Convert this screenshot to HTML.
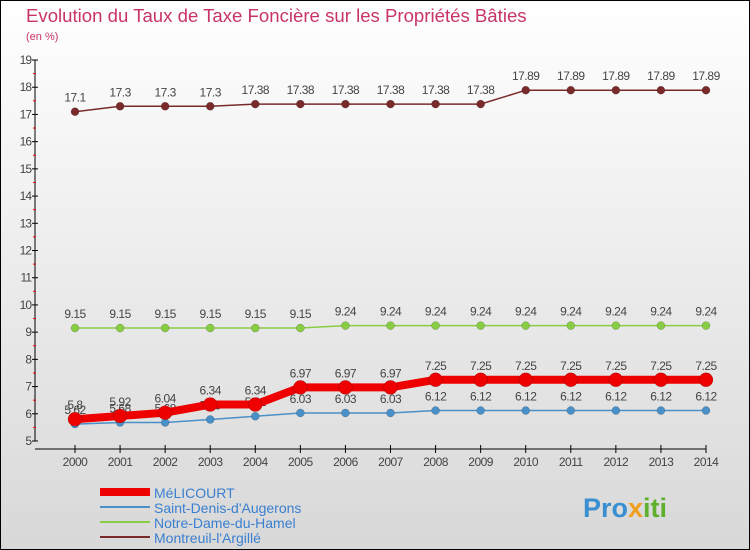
<!DOCTYPE html>
<html><head><meta charset="utf-8"><style>
body{margin:0;width:750px;height:550px;overflow:hidden;font-family:"Liberation Sans",sans-serif}
svg{display:block}
</style></head><body>
<svg id="c" width="750" height="550" xmlns="http://www.w3.org/2000/svg">
<defs><linearGradient id="bg" x1="0" y1="0" x2="0" y2="1"><stop offset="0" stop-color="#ffffff"/><stop offset="1" stop-color="#d8d8d8"/></linearGradient></defs>
<rect x="0.5" y="0.5" width="749" height="549" fill="url(#bg)" stroke="#000"/>
<text x="26" y="22" font-size="18.6" fill="#c8336a">Evolution du Taux de Taxe Foncière sur les Propriétés Bâties</text>
<text x="26" y="40" font-size="11" fill="#c8336a">(en %)</text>
<g id="axes"></g><g id="series"></g><g id="legend"></g>
<text x="583" y="517" font-size="27" font-weight="bold" fill="#3a8fd0">Pro<tspan fill="#f0a020">x</tspan><tspan fill="#60b030">iti</tspan></text>
</svg>
<script>
const years=[2000,2001,2002,2003,2004,2005,2006,2007,2008,2009,2010,2011,2012,2013,2014];
const melicourt=[5.8,5.92,6.04,6.34,6.34,6.97,6.97,6.97,7.25,7.25,7.25,7.25,7.25,7.25,7.25];
const saintDenis=[5.62,5.68,5.68,5.79,5.91,6.03,6.03,6.03,6.12,6.12,6.12,6.12,6.12,6.12,6.12];
const notreDame=[9.15,9.15,9.15,9.15,9.15,9.15,9.24,9.24,9.24,9.24,9.24,9.24,9.24,9.24,9.24];
const montreuil=[17.1,17.3,17.3,17.3,17.38,17.38,17.38,17.38,17.38,17.38,17.89,17.89,17.89,17.89,17.89];
const yTicks=[5,6,7,8,9,10,11,12,13,14,15,16,17,18,19];
const NS="http://www.w3.org/2000/svg";
const X=i=>75+i*(706-75)/14;
const Y=v=>441-(v-5)*(441-60)/14;
function mk(t,a,p){const e=document.createElementNS(NS,t);for(const k in a)e.setAttribute(k,a[k]);p.appendChild(e);return e;}
const ax=document.getElementById('axes');
const ya=mk('line',{x1:35,y1:Y(19),x2:35,y2:Y(5),stroke:'#000'},ax);


const xa=mk('line',{x1:35,y1:449,x2:706,y2:449,stroke:'#000'},ax);


yTicks.forEach(v=>{
 mk('line',{x1:32,y1:Y(v),x2:38,y2:Y(v),stroke:'#000'},ax);
 if(v<19)mk('line',{x1:33,y1:Y(v+0.5),x2:36,y2:Y(v+0.5),stroke:'#e00'},ax);
 const t=mk('text',{x:31,y:Y(v)+4,'font-size':12,'text-anchor':'end',fill:'#444','letter-spacing':'-1'},ax);t.textContent=v;
 
 
});
years.forEach((y,i)=>{
 mk('line',{x1:X(i),y1:445,x2:X(i),y2:453,stroke:'#000'},ax);
 const t=mk('text',{x:X(i),y:466,'font-size':12,'text-anchor':'middle',fill:'#444','letter-spacing':'-0.5'},ax);t.textContent=y;
 
 
});
const S=[
 {name:'Montreuil-l\'Argillé',d:montreuil,c:'#7a2a2a',w:1.5,r:4},
 {name:'Notre-Dame-du-Hamel',d:notreDame,c:'#88cc44',w:1.5,r:4},
 {name:'Saint-Denis-d\'Augerons',d:saintDenis,c:'#4a90c8',w:1.5,r:4},
 {name:'MéLICOURT',d:melicourt,c:'#ee0000',w:8,r:7}
];
const sg=document.getElementById('series');
S.forEach(s=>{
 const g=mk('g',{},sg);
 
 
 mk('polyline',{points:s.d.map((v,i)=>X(i)+','+Y(v)).join(' '),fill:'none',stroke:s.c,'stroke-width':s.w},g);
 s.d.forEach((v,i)=>{
  const p=mk('circle',{cx:X(i),cy:Y(v),r:s.r,fill:s.c,stroke:'rgba(0,0,0,0.3)','stroke-width':0.5},g);
  
  
  const t=mk('text',{x:X(i),y:Y(v)-10,'font-size':12,'text-anchor':'middle',fill:'#444','letter-spacing':'-0.5'},g);t.textContent=v;
 });
});
const lg=document.getElementById('legend');
[S[3],S[2],S[1],S[0]].forEach((s,i)=>{
 const y=492+i*15;
 const g=mk('g',{},lg);
 
 
 mk('line',{x1:100,y1:y,x2:150,y2:y,stroke:s.c,'stroke-width':s.w===8?8:2},g);
 const t=mk('text',{x:154,y:y+6,'font-size':14,fill:'#3a7fd0'},g);t.textContent=s.name;
});
</script>
</body></html>
